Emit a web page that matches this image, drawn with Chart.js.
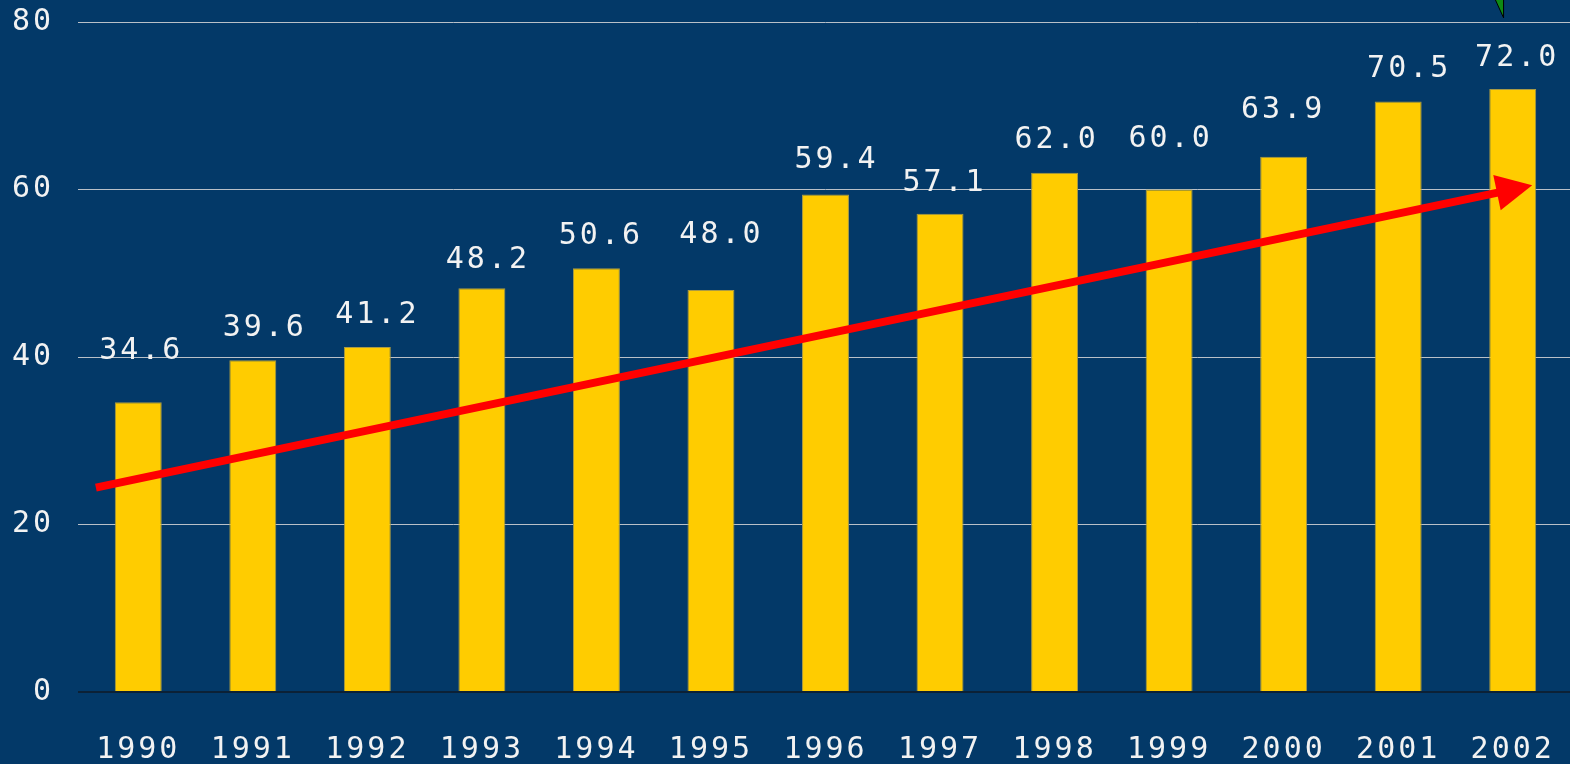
<!DOCTYPE html>
<html>
<head>
<meta charset="utf-8">
<script src="https://cdn.jsdelivr.net/npm/chart.js@4/dist/chart.umd.min.js"></script>
<style>
  html, body { margin: 0; padding: 0; background: #033968; overflow: hidden; }
  canvas { display: block; }
</style>
</head>
<body>
<canvas id="chartAnios" width="1570" height="764"></canvas>
<script>
// ── Datos ──
const anios   = ['1990','1991','1992','1993','1994','1995','1996','1997','1998','1999','2000','2001','2002'];
const valores = [34.6, 39.6, 41.2, 48.2, 50.6, 48.0, 59.4, 57.1, 62.0, 60.0, 63.9, 70.5, 72.0];
const yTicks  = [0, 20, 40, 60, 80];

// tendencia roja: [indice de categoria, valor]
const tendenciaIni = [-0.37, 24.4];
const tendenciaFin = [12.17, 60.5];

// punta verde cortada arriba a la derecha: [indice, valor]
const verdePunta = [11.92, 80.5];
const verdeBase  = [[11.84, 82.9], [11.92, 82.9]];

// ── Estilo ──
const FONT = { family: "'DejaVu Sans Mono', monospace", size: 30 };
const TXT = '#f2f2f2';
// desplazamiento de cada etiqueta [dx, alto sobre la barra] en px
const labelShift = [[1.5,54],[10.5,35],[8.5,35],[4.5,31],[3,35],[9,58],[9.5,38],[3,33.5],[0.5,35.5],[0,54],[-2,50],[9.5,36],[3,34]];

const spacing = {
  id: 'spacing',
  beforeDraw(chart) { chart.ctx.letterSpacing = '3px'; }
};

const valueLabels = {
  id: 'valueLabels',
  afterDatasetsDraw(chart) {
    const ctx = chart.ctx;
    const meta = chart.getDatasetMeta(0);
    ctx.save();
    ctx.letterSpacing = '3px';
    ctx.font = FONT.size + 'px ' + FONT.family;
    ctx.fillStyle = TXT;
    ctx.textAlign = 'center';
    ctx.textBaseline = 'alphabetic';
    meta.data.forEach((bar, i) => {
      const [dx, dy] = labelShift[i];
      ctx.fillText(valores[i].toFixed(1), bar.x + dx + 1.5, bar.y - dy + 11);
    });
    ctx.restore();
  }
};

const flechas = {
  id: 'flechas',
  afterDatasetsDraw(chart) {
    const { ctx, scales: { x, y } } = chart;
    const px = p => [x.getPixelForValue(p[0]), y.getPixelForValue(p[1])];
    const [x0, y0] = px(tendenciaIni);
    const [x1, y1] = px(tendenciaFin);
    const ang = Math.atan2(y1 - y0, x1 - x0);
    const headLen = 36, headHalf = 18;
    const bx = x1 - headLen * Math.cos(ang), by = y1 - headLen * Math.sin(ang);
    ctx.save();
    ctx.strokeStyle = '#ff0000';
    ctx.fillStyle = '#ff0000';
    ctx.lineWidth = 8;
    ctx.beginPath();
    ctx.moveTo(x0, y0);
    ctx.lineTo(bx + 2 * Math.cos(ang), by + 2 * Math.sin(ang));
    ctx.stroke();
    ctx.beginPath();
    ctx.moveTo(x1, y1);
    ctx.lineTo(bx + headHalf * Math.sin(ang), by - headHalf * Math.cos(ang));
    ctx.lineTo(bx - headHalf * Math.sin(ang), by + headHalf * Math.cos(ang));
    ctx.closePath();
    ctx.fill();

    // punta verde
    const t = px(verdePunta);
    const a = px(verdeBase[0]);
    const b = px(verdeBase[1]);
    ctx.fillStyle = '#0f8a14';
    ctx.strokeStyle = '#000000';
    ctx.lineWidth = 1;
    ctx.beginPath();
    ctx.moveTo(a[0], a[1]);
    ctx.lineTo(t[0], t[1]);
    ctx.lineTo(b[0], b[1]);
    ctx.closePath();
    ctx.fill();
    ctx.stroke();
    ctx.restore();
  }
};

new Chart(document.getElementById('chartAnios'), {
  type: 'bar',
  data: {
    labels: anios,
    datasets: [{
      data: valores,
      backgroundColor: '#ffcc00',
      borderColor: '#a99a45',
      borderWidth: 1,
      borderSkipped: 'bottom',
      barPercentage: 0.41,
      categoryPercentage: 1
    }]
  },
  options: {
    responsive: false,
    animation: false,
    layout: { padding: { top: 22, right: 0, bottom: 0, left: 0 } },
    plugins: { legend: { display: false }, tooltip: { enabled: false } },
    scales: {
      x: {
        grid: { display: false },
        border: { display: false },
        ticks: { color: TXT, font: FONT, padding: 32, maxRotation: 0, autoSkip: false },
        afterFit: s => { s.height = 72; s.paddingLeft = 0; s.paddingRight = 0; }
      },
      y: {
        min: 0, max: 80,
        afterBuildTicks: s => { s.ticks = yTicks.map(v => ({ value: v })); },
        border: { display: false },
        grid: {
          color: c => c.tick && c.tick.value === 0 ? '#0c2136' : '#b9c0c8',
          lineWidth: c => c.tick && c.tick.value === 0 ? 2 : 1,
          drawTicks: true, tickLength: 3
        },
        ticks: { color: TXT, font: FONT, padding: 24 },
        afterFit: s => { s.width = 81; s.paddingTop = 0; s.paddingBottom = 0; }
      }
    }
  },
  plugins: [spacing, valueLabels, flechas]
});
</script>
</body>
</html>
